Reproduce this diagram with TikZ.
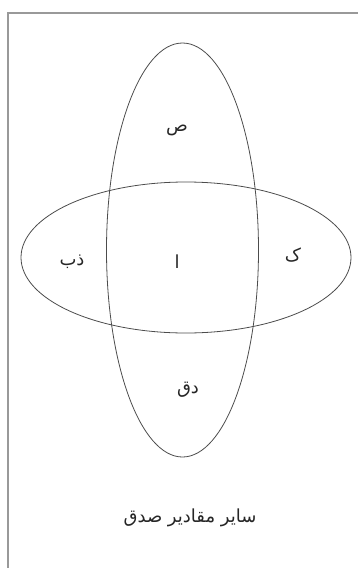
\documentclass[tikz,border=0pt]{standalone}
\usepackage{fontspec}
\newfontfamily\arabicfont[Script=Arabic]{DejaVu Sans}
\TeXXeTstate=1
\begin{document}
\begin{tikzpicture}[x=1pt,y=-1pt,
  venn/.style={draw=black!70,line width=0.8pt},
  frame/.style={draw=black!40,line width=1.6pt},
  lbl/.style={font=\arabicfont\fontsize{18}{20}\selectfont,inner sep=0pt,text=black!85}]
\useasboundingbox (0,0) rectangle (358,568);
\draw[frame] (8,568) -- (8,13) -- (358,13);
\draw[venn] (182.5,250) ellipse [x radius=76, y radius=207];
\draw[venn] (186,257.5) ellipse [x radius=165, y radius=75.5];
\node[lbl] (s) at (177,130) {\beginR ص\endR};
\node[lbl] (zb) at (72,262) {\beginR ذب\endR};
\node[lbl] (a) at (177,262) {\beginR ا\endR};
\node[lbl] (k) at (293,255) {\beginR ک\endR};
\node[lbl] (dq) at (188,390) {\beginR دق\endR};
\node[lbl] (rest) at (190,518) {\beginR سایر مقادیر صدق\endR};
\end{tikzpicture}
\end{document}
